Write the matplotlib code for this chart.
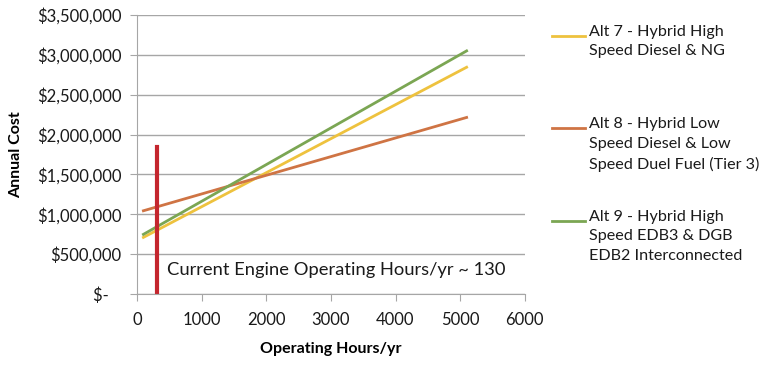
import matplotlib
matplotlib.use('Agg')
import matplotlib.pyplot as plt
from matplotlib.lines import Line2D
from matplotlib.ticker import FuncFormatter

plt.rcParams['font.family'] = ['Lato', 'DejaVu Sans']

# data
hours = [100, 5100]
alt7 = [710000, 2845000]
alt8 = [1044000, 2215000]
alt9 = [748000, 3050000]
current_hours = 315
current_top = 1845000

names = ['Alt 7 - Hybrid High\nSpeed Diesel & NG',
         'Alt 8 - Hybrid Low\nSpeed Diesel & Low\nSpeed Duel Fuel (Tier 3)',
         'Alt 9 - Hybrid High\nSpeed EDB3 & DGB\nEDB2 Interconnected']
colors = ['#EEC23E', '#CF7444', '#7BA653']

fig = plt.figure(figsize=(7.65, 3.67), dpi=100)
ax = fig.add_axes([0.179, 0.199, 0.507, 0.760])

for y, c in zip([alt7, alt8, alt9], colors):
    ax.plot(hours, y, color=c, lw=2)

ax.plot([current_hours, current_hours], [0, current_top], color='#C4262E', lw=3)
ax.text(465, 300000, 'Current Engine Operating Hours/yr ~ 130', fontsize=13.2,
        va='center', ha='left', color='#1a1a1a')

ax.set_xlim(0, 6000)
ax.set_ylim(0, 3500000)
ax.set_xticks(range(0, 7000, 1000))
ax.set_yticks(range(0, 4000000, 500000))


def money(v, pos):
    if v == 0:
        return '$-   '
    return '${:,.0f}'.format(v)


ax.yaxis.set_major_formatter(FuncFormatter(money))
ax.grid(axis='y', color='#a6a6a6', lw=1)
ax.set_axisbelow(True)
for s in ['top', 'right']:
    ax.spines[s].set_visible(False)
for s in ['left', 'bottom']:
    ax.spines[s].set_color('#a6a6a6')
ax.tick_params(colors='#a6a6a6', labelcolor='#1a1a1a', labelsize=12, length=5)
ax.tick_params(axis='y', pad=6)
ax.tick_params(axis='x', pad=8)

ax.set_xlabel('Operating Hours/yr', fontsize=11.5, fontweight='bold', labelpad=10)
ax.set_ylabel('Annual Cost', fontsize=11.5, fontweight='bold', labelpad=10)

# legend on the right
leg_y = [0.902, 0.651, 0.398]
for name, c, ly in zip(names, colors, leg_y):
    fig.add_artist(Line2D([0.722, 0.765], [ly, ly], color=c, lw=2))
    fig.text(0.770, ly + 0.030, name, fontsize=11.6, va='top', ha='left',
             linespacing=1.5, color='#1a1a1a')

fig.savefig('out.png', dpi=100)
